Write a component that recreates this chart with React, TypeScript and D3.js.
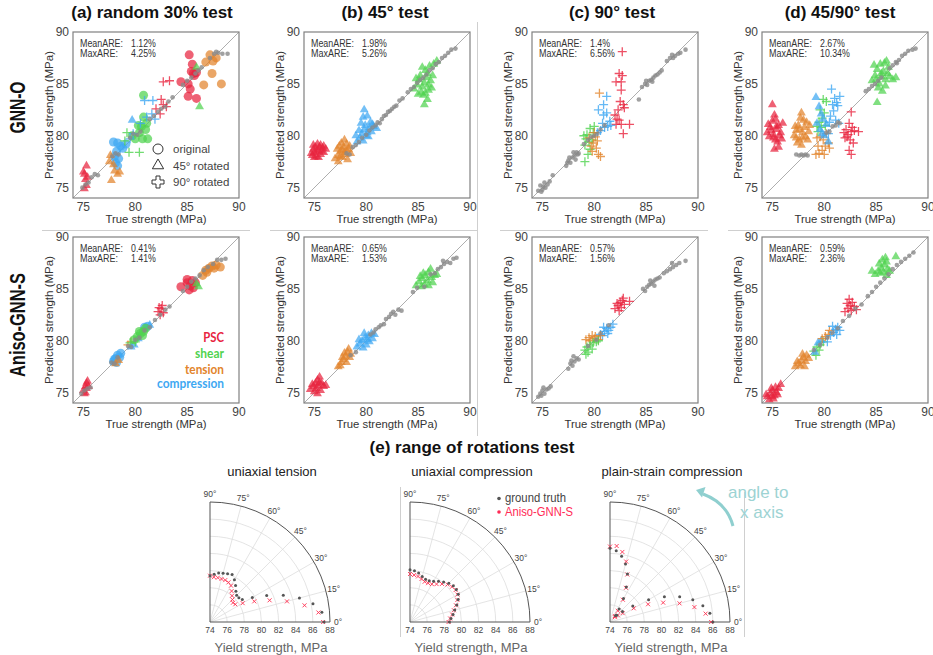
import React from 'react';
import * as d3 from 'd3';

type Pt = [number, number];
type Group = [string, string, Pt[]]; // load case, marker, points

const FONT = 'Liberation Sans, Arial, Helvetica, sans-serif';

const caseColor: Record<string, string> = {
  P: '#e8243f', S: '#4fd34f', T: '#e2842c', C: '#3ea8f2',
};
const caseNames = ['PSC', 'shear', 'tension', 'compression'];
const caseKeys = ['P', 'S', 'T', 'C'];

const ticks = [75, 80, 85, 90];
const columnTitles = ['(a) random 30% test', '(b) 45° test', '(c) 90° test', '(d) 45/90° test'];
const rowTitles = ['GNN-O', 'Aniso-GNN-S'];

// ---------------- GNN-O row ----------------
const grayA1: Pt[] = [
  [74.9, 75.0], [75.2, 75.3], [75.5, 75.5], [75.8, 76.0], [76.1, 76.3], [76.4, 76.2], [77.8, 78.0], [78.1, 78.3],
  [78.4, 78.2], [79.5, 79.8], [79.8, 80.2], [80.2, 80.1], [80.5, 80.4], [81.4, 81.6], [81.8, 81.9], [82.2, 82.3],
  [82.5, 82.6], [82.9, 82.8], [83.2, 83.3], [83.6, 83.7], [84.6, 84.9], [85.0, 85.3], [85.4, 85.6], [85.8, 86.0],
  [86.1, 86.3], [86.4, 86.6], [87.2, 87.5], [87.6, 87.9], [88.0, 88.0], [88.4, 87.9], [88.9, 87.9], [87.8, 88.1],
];
const marksA1: Group[] = [
  ['P', 'o', [[85.2, 87.8], [85.5, 86.9], [85.4, 86.2], [85.9, 86.1], [85.7, 85.8], [84.4, 85.2], [85.1, 85.0], [85.3, 84.5], [85.1, 83.8], [85.9, 83.6], [85.6, 86.0]]],
  ['T', 'o', [[87.2, 87.8], [87.8, 87.5], [86.8, 87.1], [87.4, 86.0], [86.6, 84.9], [88.3, 85.0], [87.5, 87.2]]],
  ['S', 'o', [[80.8, 83.9], [80.8, 81.8], [81.1, 81.2], [80.6, 80.9], [80.4, 80.3], [81.0, 80.6], [80.0, 79.7], [80.7, 79.7], [81.2, 79.7], [79.7, 80.0], [80.3, 81.0]]],
  ['C', 'o', [[77.9, 79.4], [78.3, 79.3], [78.6, 79.0], [78.2, 78.5], [78.0, 78.0], [78.4, 77.8], [78.1, 77.4], [78.8, 78.8], [79.1, 79.2], [78.3, 77.1]]],
  ['P', '^', [[75.3, 77.1], [75.1, 76.3], [75.2, 75.8], [75.3, 75.2], [75.1, 74.9], [75.0, 76.5], [75.4, 76.0]]],
  ['T', '^', [[77.9, 77.2], [78.0, 76.6], [77.7, 75.7], [78.3, 76.3], [77.6, 78.1], [78.5, 76.5], [77.5, 77.5]]],
  ['S', '^', [[86.2, 82.8], [85.9, 86.6]]],
  ['C', '^', [[79.7, 81.5]]],
  ['P', '+', [[82.7, 85.2], [83.3, 85.3], [82.5, 83.5], [82.7, 83.0], [82.0, 82.6], [82.4, 82.1], [83.0, 82.8]]],
  ['S', '+', [[79.0, 79.5], [79.4, 78.4], [80.4, 78.4], [79.2, 80.3]]],
  ['C', '+', [[80.9, 83.4], [81.7, 83.4], [81.6, 82.1], [81.1, 81.8], [81.9, 81.6], [80.5, 81.2], [79.8, 80.2], [79.5, 79.7]]],
];

const grayB1: Pt[] = [
  [78.1, 78.3], [78.4, 78.2], [78.7, 78.9], [79.0, 79.1], [79.3, 79.4], [79.6, 79.8], [80.0, 80.1], [80.3, 80.5],
  [80.6, 80.8], [80.9, 81.0], [81.1, 81.3], [81.3, 81.2], [81.5, 81.6], [81.7, 81.9], [81.9, 82.0], [82.1, 82.3],
  [82.3, 82.4], [82.5, 82.6], [82.7, 82.8], [82.9, 82.9], [83.2, 83.4], [83.5, 83.6], [84.0, 84.2], [84.3, 84.5],
  [84.6, 84.7], [84.9, 85.1], [85.2, 85.4], [85.5, 85.6], [85.8, 85.9], [86.1, 86.3], [86.4, 86.5], [86.7, 86.9],
  [87.0, 87.1], [87.3, 87.5], [87.6, 87.7], [87.9, 88.0], [88.2, 88.3], [88.6, 88.4],
];
const marksB1: Group[] = [
  ['P', '^', [[74.8, 78.1], [75.0, 78.4], [75.2, 78.0], [75.4, 78.6], [75.1, 78.9], [74.9, 78.7], [75.6, 78.2], [75.8, 78.8], [75.3, 79.2], [75.5, 78.9], [74.7, 78.3], [75.9, 79.0], [76.1, 78.7], [75.2, 78.5], [75.7, 78.5], [75.0, 77.9], [75.4, 77.9], [75.6, 79.1], [75.9, 78.4], [74.9, 79.1]]],
  ['T', '^', [[77.0, 77.8], [77.3, 78.1], [77.5, 78.5], [77.8, 78.9], [77.6, 79.3], [77.9, 79.6], [78.1, 79.2], [78.3, 78.7], [78.0, 78.2], [77.7, 77.9], [78.2, 77.7], [77.4, 79.0], [77.2, 78.7], [78.4, 79.0], [77.9, 78.4], [77.5, 78.0], [78.1, 78.6], [77.7, 78.6], [78.5, 78.3], [77.3, 77.5]]],
  ['C', '^', [[79.1, 79.4], [79.4, 79.8], [79.6, 80.2], [79.3, 80.5], [79.8, 80.6], [80.1, 80.3], [80.3, 80.8], [79.9, 81.0], [80.5, 80.4], [80.7, 80.9], [81.0, 80.7], [79.7, 79.5], [80.2, 79.9], [79.5, 81.2], [79.8, 82.5], [79.7, 81.8], [80.1, 81.9], [80.4, 81.3], [79.0, 80.0], [80.6, 81.1], [80.0, 80.0]]],
  ['S', '^', [[84.6, 84.5], [84.9, 84.9], [85.1, 85.4], [85.4, 84.7], [85.6, 85.1], [85.8, 85.6], [86.0, 84.9], [86.2, 85.3], [85.3, 84.2], [85.7, 84.1], [86.0, 84.4], [85.5, 83.9], [85.9, 83.5], [85.6, 83.0], [85.2, 85.8], [85.9, 86.0], [86.1, 86.7], [85.7, 86.3], [86.4, 85.8], [84.8, 85.5], [85.0, 84.0], [86.3, 84.6], [86.8, 87.2], [85.4, 86.6], [86.5, 86.9]]],
];

const grayC1: Pt[] = [
  [74.6, 74.7], [74.9, 74.6], [75.1, 75.1], [75.3, 75.0], [75.2, 75.5], [75.5, 75.3], [74.8, 75.2], [75.7, 75.6], [76.0, 76.2], [75.0, 74.8],
  [77.3, 77.1], [77.5, 77.6], [77.7, 77.4], [77.9, 77.9], [78.1, 78.1], [78.2, 77.7], [78.4, 78.2], [78.0, 78.4], [77.6, 77.9], [78.3, 78.4], [77.4, 77.4], [78.5, 78.3],
  [79.0, 79.2], [79.4, 79.6], [79.7, 79.9], [80.0, 80.0], [80.3, 80.2], [80.6, 80.6], [81.0, 81.0], [84.3, 83.5],
  [84.6, 84.7], [84.9, 85.0], [85.1, 84.9], [85.3, 85.3], [85.5, 85.4], [85.7, 85.6], [85.9, 85.8], [86.1, 85.9], [86.3, 86.1], [85.0, 85.3], [85.6, 85.2], [86.5, 86.3],
  [87.0, 87.2], [87.3, 87.5], [87.6, 87.5], [87.8, 87.7], [88.1, 87.9], [88.3, 88.0], [88.8, 88.3], [87.5, 87.8],
];
const marksC1: Group[] = [
  ['P', '+', [[82.4, 86.0], [82.7, 85.8], [82.1, 85.2], [82.6, 85.2], [82.6, 84.4], [82.3, 82.5], [82.8, 83.0], [82.5, 83.3], [82.0, 82.0], [82.4, 81.5], [82.1, 81.1], [82.6, 81.1], [83.4, 81.1], [82.8, 80.2], [82.7, 88.1], [82.9, 82.7], [82.2, 81.6]]],
  ['C', '+', [[81.2, 83.8], [80.9, 83.0], [80.9, 82.0], [81.2, 82.2], [80.4, 82.5], [81.5, 81.4], [81.0, 80.8], [80.6, 80.5], [81.3, 80.9], [80.8, 81.2], [81.6, 81.0], [80.3, 80.3]]],
  ['S', '+', [[79.6, 80.7], [79.3, 80.1], [79.1, 79.1], [79.4, 78.2], [79.1, 77.5], [79.8, 79.6], [79.5, 79.4], [80.0, 80.9], [79.2, 79.7], [79.6, 78.7], [79.0, 80.0], [79.9, 80.3]]],
  ['T', '+', [[80.5, 84.1], [80.1, 79.9], [80.2, 78.8], [80.4, 78.2], [79.9, 79.3], [79.7, 79.0], [80.3, 79.5], [79.8, 78.5], [80.0, 80.3], [80.6, 78.0], [79.5, 79.8]]],
];

const grayD1: Pt[] = [
  [77.3, 78.2], [77.6, 78.1], [77.8, 78.2], [78.0, 78.1], [78.2, 78.2], [78.4, 78.1],
  [80.2, 80.3], [80.5, 80.4], [80.8, 80.9], [81.1, 81.0], [81.3, 81.3], [81.5, 81.2],
  [84.0, 84.3], [84.3, 84.5], [84.6, 84.8], [84.9, 85.0], [85.2, 85.3], [85.5, 85.6],
  [86.3, 86.5], [86.6, 86.8], [86.9, 87.1], [87.2, 87.3], [87.5, 87.7], [87.8, 87.9], [88.1, 88.2], [88.5, 88.3], [88.8, 88.4], [87.0, 87.0],
];
const marksD1: Group[] = [
  ['P', '^', [[74.5, 80.3], [74.8, 80.8], [75.0, 81.4], [75.1, 80.1], [75.3, 79.6], [75.4, 80.6], [75.2, 82.0], [75.0, 83.0], [75.6, 81.0], [75.8, 80.3], [75.5, 79.4], [75.2, 78.7], [74.7, 79.9], [75.9, 79.7], [76.0, 81.2], [74.9, 80.5], [75.3, 81.6], [75.7, 80.0], [74.6, 81.1], [75.4, 80.9], [75.1, 79.8], [75.6, 78.9]]],
  ['T', '^', [[77.1, 80.0], [77.3, 80.5], [77.5, 81.0], [77.7, 81.7], [77.8, 82.2], [77.6, 79.6], [77.9, 80.3], [78.1, 80.8], [78.3, 81.3], [78.2, 79.9], [77.4, 79.3], [78.5, 80.4], [77.8, 79.1], [77.2, 80.9], [78.0, 81.5], [78.4, 79.6], [77.6, 80.6], [78.6, 81.0], [77.9, 79.8], [77.3, 79.8]]],
  ['T', '+', [[79.2, 78.2], [79.5, 78.3], [79.8, 78.6], [80.1, 79.0], [80.4, 79.3], [79.4, 79.0], [79.9, 79.6], [80.2, 80.2], [80.5, 78.8], [79.6, 79.9], [80.0, 78.2], [79.3, 79.8]]],
  ['S', '^', [[84.6, 85.3], [84.9, 85.8], [85.1, 86.4], [85.3, 85.0], [85.5, 85.7], [85.7, 86.2], [85.9, 85.4], [86.1, 86.0], [85.4, 86.9], [85.8, 87.0], [86.3, 85.7], [86.6, 85.4], [85.2, 84.6], [85.6, 84.3], [85.1, 83.2], [85.9, 84.8], [86.2, 86.6], [84.8, 86.8], [86.9, 85.6], [85.0, 85.4], [85.5, 86.0], [86.0, 87.2]]],
  ['S', '+', [[79.3, 80.9], [79.5, 81.3], [79.8, 81.7], [80.0, 82.2], [80.2, 83.3], [79.9, 83.5], [79.6, 82.5], [79.4, 80.4], [80.1, 81.0], [79.7, 80.8]]],
  ['C', '^', [[79.2, 83.7], [79.5, 82.8], [79.7, 82.1], [79.9, 81.6], [79.6, 80.6], [80.0, 80.0], [80.4, 79.4], [79.3, 81.2], [79.8, 80.2], [80.2, 81.1]]],
  ['C', '+', [[80.7, 84.5], [81.0, 83.6], [81.2, 83.2], [80.9, 82.4], [81.3, 82.9], [80.6, 81.9], [81.1, 81.5], [81.4, 81.2], [80.5, 81.3], [80.8, 83.0], [81.5, 83.8], [80.4, 80.2]]],
  ['P', '+', [[82.6, 82.3], [82.4, 81.2], [82.1, 80.6], [82.3, 80.1], [82.6, 80.4], [82.9, 80.5], [83.3, 80.4], [82.0, 79.8], [82.5, 79.6], [82.8, 79.3], [82.4, 78.6], [82.6, 78.2], [81.9, 80.3], [82.2, 79.9], [82.7, 80.8]]],
];

// ---------------- Aniso-GNN-S row ----------------
const grayA2: Pt[] = [
  [74.8, 74.9], [75.1, 75.2], [75.4, 75.4], [75.7, 75.5], [77.7, 77.9], [78.0, 77.8], [78.3, 78.4], [79.3, 79.5],
  [79.6, 79.4], [80.0, 80.1], [80.4, 80.3], [80.9, 81.0], [81.4, 81.3], [81.9, 82.0], [82.4, 82.5], [82.9, 83.0],
  [83.3, 83.3], [84.6, 84.8], [85.0, 85.2], [85.4, 85.7], [85.8, 86.0], [86.2, 86.3], [86.6, 86.8], [87.0, 87.1],
  [87.5, 87.4], [87.9, 87.8], [88.3, 87.8], [88.7, 87.9],
];
const marksA2: Group[] = [
  ['P', '^', [[75.0, 75.2], [75.2, 75.6], [75.3, 75.9], [75.4, 76.1], [75.1, 74.9], [75.3, 75.4], [75.5, 75.6], [75.2, 75.0]]],
  ['C', 'o', [[78.0, 78.2], [78.3, 78.6], [78.5, 78.4], [78.2, 77.9], [77.9, 78.0], [78.6, 78.8], [78.1, 78.3], [80.9, 81.3], [81.2, 81.4]]],
  ['T', '^', [[78.1, 77.8], [78.4, 78.1]]],
  ['T', '+', [[79.3, 79.6], [79.6, 79.9]]],
  ['C', '^', [[79.6, 79.4], [79.9, 79.6], [80.3, 80.2], [81.4, 81.5]]],
  ['S', 'o', [[79.9, 80.1], [80.2, 80.4], [80.5, 80.7], [80.8, 80.9], [81.0, 81.2], [80.4, 80.9], [80.7, 80.5]]],
  ['S', '+', [[79.5, 79.8], [80.0, 79.9]]],
  ['P', '+', [[82.2, 82.8], [82.5, 83.1], [82.7, 82.7], [82.4, 82.5], [82.6, 83.4], [82.3, 83.2]]],
  ['P', 'o', [[84.4, 85.2], [85.0, 85.6], [85.3, 85.3], [85.5, 85.8], [85.8, 85.6], [85.6, 85.1], [85.2, 84.9], [85.0, 85.9]]],
  ['S', '^', [[86.1, 85.2], [85.9, 85.5]]],
  ['T', 'o', [[86.8, 86.8], [87.1, 87.0], [87.4, 87.2], [87.8, 87.3], [88.2, 87.1], [87.6, 87.0], [86.9, 86.6], [86.5, 86.3]]],
];

const grayB2: Pt[] = [
  [78.5, 78.6], [79.0, 78.9], [80.4, 80.6], [80.7, 80.8], [80.9, 81.1], [81.2, 81.3], [81.4, 81.5], [81.7, 81.6],
  [81.9, 82.1], [82.2, 82.3], [82.4, 82.6], [82.6, 82.8], [82.8, 82.5], [83.1, 83.0], [83.4, 82.9], [84.5, 84.7],
  [84.9, 85.1], [86.2, 86.4], [86.6, 86.5], [86.9, 86.9], [87.2, 87.1], [87.5, 87.4], [87.8, 87.6], [88.1, 87.5],
  [88.4, 87.9], [88.7, 88.0], [87.4, 87.7], [85.6, 85.2],
];
const marksB2: Group[] = [
  ['P', '^', [[74.6, 75.3], [74.9, 75.6], [75.1, 75.9], [75.3, 76.2], [75.5, 76.5], [75.2, 75.4], [75.0, 75.1], [75.4, 75.7], [75.7, 75.9], [75.9, 75.6], [76.1, 75.7], [75.6, 75.2], [75.3, 74.9], [74.8, 75.8], [75.5, 76.0]]],
  ['T', '^', [[77.3, 77.5], [77.6, 77.9], [77.8, 78.2], [78.0, 78.5], [78.2, 78.9], [78.4, 78.4], [77.9, 78.8], [78.3, 79.2], [77.7, 78.4], [78.1, 77.9], [78.5, 78.7], [77.5, 77.6]]],
  ['C', '^', [[79.1, 79.4], [79.4, 79.7], [79.6, 80.0], [79.9, 80.3], [80.2, 80.5], [80.5, 80.7], [80.8, 80.6], [80.3, 79.9], [80.0, 79.6], [79.7, 79.3], [79.3, 80.1], [80.6, 80.2], [79.8, 80.7], [80.1, 80.1]]],
  ['S', '^', [[84.8, 85.3], [85.1, 85.7], [85.4, 86.0], [85.7, 86.3], [86.0, 86.6], [86.2, 86.9], [85.6, 85.4], [85.9, 85.8], [86.3, 86.1], [86.6, 86.3], [85.3, 85.2], [86.0, 85.3], [85.5, 86.5], [86.8, 86.4], [85.2, 86.2], [86.4, 85.6]]],
];

const grayC2: Pt[] = [
  [74.6, 74.6], [74.8, 74.9], [75.0, 75.2], [75.2, 74.9], [75.4, 75.3], [75.1, 75.5], [75.6, 75.4], [75.8, 75.6], [74.9, 74.7],
  [77.5, 77.3], [77.7, 77.8], [77.9, 77.6], [78.1, 78.0], [78.3, 78.3], [78.0, 78.5], [78.5, 78.2], [77.8, 78.1],
  [79.4, 79.5], [80.2, 80.1], [80.6, 80.7], [81.4, 81.5],
  [84.7, 85.0], [84.9, 84.8], [85.1, 85.2], [85.3, 85.4], [85.5, 85.5], [85.7, 85.7], [85.9, 85.9], [86.1, 86.0], [85.4, 85.8], [85.8, 85.3],
  [86.3, 86.1], [86.7, 86.5], [87.0, 86.7], [87.3, 86.9], [87.6, 87.1], [87.9, 87.3], [88.2, 87.5], [88.8, 87.7], [87.5, 87.5],
];
const marksC2: Group[] = [
  ['P', '+', [[82.0, 83.1], [82.3, 83.4], [82.5, 83.7], [82.7, 83.9], [82.6, 83.2], [82.9, 83.5], [82.4, 82.9], [83.4, 83.8], [82.2, 83.6], [82.8, 84.1]]],
  ['C', '+', [[80.8, 80.5], [81.0, 80.9], [81.2, 81.2], [81.4, 81.0], [81.6, 81.3], [80.9, 81.3], [81.3, 80.7], [81.8, 81.6], [80.6, 80.6]]],
  ['T', '+', [[79.2, 80.1], [79.5, 80.3], [79.8, 80.5], [80.1, 80.4], [80.4, 80.1], [80.6, 80.5], [79.6, 80.0], [80.0, 80.2]]],
  ['S', '+', [[79.1, 79.1], [79.3, 79.4], [79.6, 79.6], [79.9, 79.8], [80.2, 79.9], [79.4, 78.9], [79.8, 79.2], [80.4, 80.0], [79.2, 78.7]]],
];

const grayD2: Pt[] = [
  [79.0, 79.1], [79.6, 79.6], [80.3, 80.3], [80.8, 80.8], [81.3, 81.2], [81.8, 81.9], [82.4, 82.4], [83.0, 83.1],
  [83.6, 83.5], [84.2, 84.3], [84.6, 84.7], [85.0, 85.2], [85.4, 85.6], [85.8, 86.0], [86.2, 86.4], [86.6, 86.9],
  [87.0, 87.3], [87.4, 87.6], [87.8, 87.9], [88.2, 88.2], [88.6, 88.5],
];
const marksD2: Group[] = [
  ['P', '^', [[74.5, 74.6], [74.8, 74.9], [75.0, 75.2], [75.2, 74.7], [75.4, 75.0], [75.6, 75.4], [75.8, 75.8], [75.1, 74.4], [74.7, 74.3], [75.3, 75.5], [74.9, 75.4], [75.5, 74.8], [74.4, 74.8], [75.0, 74.6]]],
  ['T', '^', [[77.2, 77.5], [77.5, 77.8], [77.8, 78.1], [78.0, 78.4], [78.3, 78.6], [77.7, 77.6], [78.2, 78.0], [78.5, 78.3], [77.9, 78.7], [77.4, 78.0], [78.1, 77.5]]],
  ['S', '+', [[79.0, 79.0], [79.3, 79.4], [79.6, 79.6], [79.9, 79.9], [79.2, 78.6], [79.5, 79.1]]],
  ['C', '^', [[79.4, 79.8], [79.7, 80.0], [79.1, 78.9]]],
  ['T', '+', [[79.8, 80.2], [80.1, 80.4], [80.4, 80.6], [80.5, 81.0]]],
  ['C', '+', [[80.6, 80.5], [80.9, 80.8], [81.1, 81.1], [81.3, 81.3], [81.5, 81.0], [80.8, 81.4], [81.2, 80.6], [80.3, 79.9]]],
  ['P', '+', [[82.0, 82.8], [82.3, 83.1], [82.5, 83.4], [82.7, 83.7], [82.6, 82.9], [82.9, 83.3], [82.2, 83.6], [83.1, 83.0], [82.4, 84.0]]],
  ['S', '^', [[84.9, 86.4], [85.2, 86.7], [85.5, 87.0], [85.8, 87.3], [86.0, 87.6], [85.4, 86.5], [85.7, 86.6], [86.1, 86.9], [85.3, 87.4], [85.9, 88.0], [86.3, 86.7], [86.9, 88.1], [84.6, 86.7], [86.0, 86.3], [85.6, 87.8]]],
];

const meanARE = ['1.12%', '1.98%', '1.4%', '2.67%', '0.41%', '0.65%', '0.57%', '0.59%'];
const maxARE = ['4.25%', '5.26%', '6.56%', '10.34%', '1.41%', '1.53%', '1.56%', '2.36%'];

// ---------------- (e) range of rotations ----------------
const angles = [0, 5, 10, 15, 20, 25, 30, 35, 40, 45, 50, 55, 60, 65, 70, 75, 80, 85, 90];
const tensionTruth = [87.3, 87.1, 86.2, 84.8, 83.1, 81.3, 79.7, 78.6, 78.4, 78.4, 78.7, 79.2, 79.7, 80.1, 80.0, 79.9, 79.8, 79.6, 79.4];
const tensionPred = [87.2, 86.7, 85.2, 83.3, 81.4, 79.7, 78.4, 77.6, 77.5, 77.7, 78.0, 78.4, 78.9, 79.1, 79.2, 79.2, 79.25, 79.25, 79.4];
const compTruth = [78.6, 78.8, 79.1, 79.4, 79.8, 80.2, 80.5, 80.6, 80.6, 80.4, 80.1, 79.8, 79.5, 79.3, 79.3, 79.5, 79.8, 80.0, 80.1];
const compPred = [78.5, 78.7, 79.0, 79.3, 79.7, 80.1, 80.4, 80.5, 80.4, 80.2, 79.8, 79.4, 79.1, 79.0, 79.0, 79.2, 79.4, 79.5, 79.6];
const pscTruth = [86.0, 85.7, 85.0, 84.0, 82.65, 81.0, 79.2, 77.25, 75.9, 75.1, 75.0, 75.85, 77.15, 78.5, 79.95, 81.0, 81.8, 82.35, 82.6];
const pscPred = [85.8, 85.2, 84.0, 82.4, 80.6, 78.9, 77.2, 75.8, 75.2, 74.8, 74.9, 75.6, 77.0, 78.4, 79.9, 81.3, 82.3, 82.9, 82.8];
const polarTitles = ['uniaxial tension', 'uniaxial compression', 'plain-strain compression'];
const radialTicks = [74, 76, 78, 80, 82, 84, 86, 88];
const angleTicks = [0, 15, 30, 45, 60, 75, 90];

const panels = [
  { gray: grayA1, marks: marksA1 }, { gray: grayB1, marks: marksB1 },
  { gray: grayC1, marks: marksC1 }, { gray: grayD1, marks: marksD1 },
  { gray: grayA2, marks: marksA2 }, { gray: grayB2, marks: marksB2 },
  { gray: grayC2, marks: marksC2 }, { gray: grayD2, marks: marksD2 },
];

const colX = [73, 304, 532, 762];
const rowY = [32, 237];
const SIZE = 166;

const triPath = d3.symbol().type(d3.symbolTriangle).size(34)() as string;
const plusPath = 'M-4.5,0H4.5M0,-4.5V4.5';
const outlinedPlus = 'M-2,-6H2V-2H6V2H2V6H-2V2H-6V-2H-2Z';

// rough Arial advance widths for the ARE values
const approxW = (s: string, size: number) =>
  s.split('').reduce((w, ch) => w + (ch === '.' ? 0.278 : ch === '%' ? 0.889 : 0.556), 0) * size * 0.88;

const Marker = ({ shape, x, y, color }: { shape: string; x: number; y: number; color: string }) => {
  if (shape === 'o') return <circle cx={x} cy={y} r={4.5} fill={color} fillOpacity={0.72} />;
  if (shape === '^') return <path d={triPath} transform={`translate(${x},${y})`} fill={color} fillOpacity={0.72} />;
  return <path d={plusPath} transform={`translate(${x},${y})`} stroke={color} strokeOpacity={0.8} strokeWidth={1.3} fill="none" />;
};

const Scatter = ({ idx }: { idx: number }) => {
  const p = panels[idx];
  const left = colX[idx % 4];
  const top = rowY[Math.floor(idx / 4)];
  const x = d3.scaleLinear().domain([74, 90]).range([left, left + SIZE]);
  const y = d3.scaleLinear().domain([74, 90]).range([top + SIZE, top]);
  const bottom = top + SIZE;
  const mx = left + 7;
  return (
    <g>
      <line x1={x(74)} y1={y(74)} x2={x(90)} y2={y(90)} stroke="#999" strokeWidth={0.8} />
      {p.marks.map(([c, shape, pts], gi) =>
        pts.map((d, i) => <Marker key={`${gi}-${i}`} shape={shape} x={x(d[0])} y={y(d[1])} color={caseColor[c]} />)
      )}
      {p.gray.map((d, i) => (
        <circle key={`g${i}`} cx={x(d[0])} cy={y(d[1])} r={2.3} fill="#8a8a8a" fillOpacity={0.8} />
      ))}
      <rect x={left} y={top} width={SIZE} height={SIZE} fill="none" stroke="#808080" strokeWidth={1.2} />
      {ticks.map((t) => (
        <g key={t} fontFamily={FONT} fontSize={12} fill="#444">
          <text x={x(t)} y={bottom + 13} textAnchor="middle">{t}</text>
          <text x={left - 4} y={y(t) + 4} textAnchor="end">{t}</text>
        </g>
      ))}
      <text x={left + SIZE / 2} y={bottom + 24.5} textAnchor="middle" fontFamily={FONT} fontSize={11.5} fill="#333"
        textLength={101} lengthAdjust="spacingAndGlyphs">True strength (MPa)</text>
      <text transform={`translate(${left - 20.5},${top + SIZE / 2}) rotate(-90)`} textAnchor="middle" fontFamily={FONT}
        fontSize={11.5} fill="#333" textLength={128} lengthAdjust="spacingAndGlyphs">Predicted strength (MPa)</text>
      <g fontFamily={FONT} fontSize={10} fill="#333">
        <text x={mx} y={top + 14.5} textLength={43} lengthAdjust="spacingAndGlyphs">MeanARE:</text>
        <text x={mx + 51} y={top + 14.5} textLength={approxW(meanARE[idx], 10)} lengthAdjust="spacingAndGlyphs">{meanARE[idx]}</text>
        <text x={mx} y={top + 25} textLength={38} lengthAdjust="spacingAndGlyphs">MaxARE:</text>
        <text x={mx + 51} y={top + 25} textLength={approxW(maxARE[idx], 10)} lengthAdjust="spacingAndGlyphs">{maxARE[idx]}</text>
      </g>
    </g>
  );
};

const Polar = ({ cx, cy, truth, pred, title }: { cx: number; cy: number; truth: number[]; pred: number[]; title: string }) => {
  const r = d3.scaleLinear().domain([74, 88]).range([0, 120]);
  const R = r(88);
  const pos = (a: number, v: number): Pt => {
    const t = (a * Math.PI) / 180;
    return [cx + r(v) * Math.cos(t), cy - r(v) * Math.sin(t)];
  };
  const arc = (rad: number) => `M${cx + rad},${cy}A${rad},${rad} 0 0 0 ${cx},${cy - rad}`;
  return (
    <g>
      {radialTicks.slice(1, -1).map((v) => (
        <path key={v} d={arc(r(v))} fill="none" stroke="#ddd" strokeWidth={0.8} />
      ))}
      {angleTicks.slice(1, -1).map((a) => {
        const [ex, ey] = pos(a, 88);
        return <line key={a} x1={cx} y1={cy} x2={ex} y2={ey} stroke="#ddd" strokeWidth={0.8} />;
      })}
      <path d={arc(R)} fill="none" stroke="#555" strokeWidth={1} />
      <line x1={cx} y1={cy} x2={cx + R} y2={cy} stroke="#555" strokeWidth={1} />
      <line x1={cx} y1={cy} x2={cx} y2={cy - R} stroke="#555" strokeWidth={1} />
      {angles.map((a, i) => {
        const [px, py] = pos(a, pred[i]);
        return <path key={`p${a}`} d="M-2,-2L2,2M-2,2L2,-2" transform={`translate(${px},${py})`} stroke="#ff3050" strokeWidth={0.9} fill="none" />;
      })}
      {angles.map((a, i) => {
        const [px, py] = pos(a, truth[i]);
        return <circle key={`t${a}`} cx={px} cy={py} r={1.5} fill="#555" />;
      })}
      {radialTicks.map((v) => (
        <text key={v} x={cx + r(v)} y={cy + 11} textAnchor="middle" fontFamily={FONT} fontSize={8.5} fill="#444">{v}</text>
      ))}
      {angleTicks.map((a) => {
        const t = (a * Math.PI) / 180;
        return (
          <text key={a} x={cx + 128 * Math.cos(t)} y={cy - 128 * Math.sin(t) + 3} textAnchor="middle" fontFamily={FONT}
            fontSize={8.5} fill="#444">{a}°</text>
        );
      })}
      <text x={cx + 62} y={cy - 146} textAnchor="middle" fontFamily={FONT} fontSize={13} fill="#222">{title}</text>
      <text x={cx + 61} y={cy + 30} textAnchor="middle" fontFamily={FONT} fontSize={13} fill="#666"
        textLength={113} lengthAdjust="spacingAndGlyphs">Yield strength, MPa</text>
    </g>
  );
};

const App = () => {
  const titleX = [152, 385, 612, 840];
  const labelLen = [20.7, 29, 39, 67];
  const labelY = [341.7, 358.3, 374, 388.3];
  const legendShapes = [
    { shape: 'o', label: 'original' }, { shape: '^', label: '45° rotated' }, { shape: '+', label: '90° rotated' },
  ];
  const polarX = [210, 410, 610];
  const polarData = [[tensionTruth, tensionPred], [compTruth, compPred], [pscTruth, pscPred]];
  return (
    <svg width={933} height={655} style={{ position: 'absolute', left: 0, top: 0, background: '#fff' }}>
      {/* separators */}
      <g stroke="#cfcfcf" strokeWidth={1}>
        <line x1={42} x2={250} y1={230.5} y2={230.5} />
        <line x1={270} x2={477} y1={230.5} y2={230.5} />
        <line x1={500} x2={708} y1={230.5} y2={230.5} />
        <line x1={728} x2={930} y1={230.5} y2={230.5} />
        <line x1={477.5} x2={477.5} y1={22} y2={436} />
        <line x1={400.5} x2={400.5} y1={487} y2={637} />
        <line x1={744.5} x2={744.5} y1={492} y2={637} />
      </g>
      {columnTitles.map((t, i) => (
        <text key={t} x={titleX[i]} y={17.5} textAnchor="middle" fontFamily={FONT} fontWeight="bold" fontSize={17} fill="#111">{t}</text>
      ))}
      <text transform="translate(25,107.5) rotate(-90)" textAnchor="middle" fontFamily={FONT} fontWeight="bold" fontSize={22}
        fill="#111" textLength={52} lengthAdjust="spacingAndGlyphs">{rowTitles[0]}</text>
      <text transform="translate(25,325) rotate(-90)" textAnchor="middle" fontFamily={FONT} fontWeight="bold" fontSize={22}
        fill="#111" textLength={104} lengthAdjust="spacingAndGlyphs">{rowTitles[1]}</text>
      {panels.map((_, i) => <Scatter key={i} idx={i} />)}
      {/* marker legend, panel (a) top */}
      {legendShapes.map((l, i) => {
        const ly = 149 + i * 16.5;
        return (
          <g key={l.label}>
            {l.shape === 'o' && <circle cx={158} cy={ly} r={5} fill="none" stroke="#333" />}
            {l.shape === '^' && <path d={d3.symbol().type(d3.symbolTriangle).size(55)() as string} transform={`translate(158,${ly})`} fill="none" stroke="#333" />}
            {l.shape === '+' && <path d={outlinedPlus} transform={`translate(158,${ly})`} fill="none" stroke="#333" strokeWidth={1} />}
            <text x={173} y={ly + 4} fontFamily={FONT} fontSize={11.5} fill="#444">{l.label}</text>
          </g>
        );
      })}
      {/* load case legend, panel (a) bottom */}
      {caseNames.map((n, i) => (
        <text key={n} x={224} y={labelY[i]} textAnchor="end" fontFamily="Lato, 'Open Sans', sans-serif" fontWeight="bold"
          fontSize={14} fill={caseColor[caseKeys[i]]} textLength={labelLen[i]} lengthAdjust="spacingAndGlyphs">{n}</text>
      ))}
      {/* (e) */}
      <text x={472} y={453} textAnchor="middle" fontFamily={FONT} fontWeight="bold" fontSize={17} fill="#111">(e) range of rotations test</text>
      {polarX.map((cx, i) => (
        <Polar key={cx} cx={cx} cy={622} truth={polarData[i][0]} pred={polarData[i][1]} title={polarTitles[i]} />
      ))}
      <circle cx={499} cy={498.5} r={1.8} fill="#555" />
      <text x={505} y={502} fontFamily={FONT} fontSize={12.5} fill="#444" textLength={61} lengthAdjust="spacingAndGlyphs">ground truth</text>
      <circle cx={499} cy={512} r={1.8} fill="#ff2a55" />
      <text x={505} y={515.5} fontFamily={FONT} fontSize={12.5} fill="#ff2a55" textLength={68} lengthAdjust="spacingAndGlyphs">Aniso-GNN-S</text>
      {/* angle annotation */}
      <path d="M733,526 Q727,503 703,494" fill="none" stroke="#8fcfcf" strokeWidth={3} />
      <polygon points="696,490 705.5,487 702,497.5" fill="#8fcfcf" />
      <text x={728} y={498} fontFamily={FONT} fontSize={17} fill="#9dd3d3">angle to</text>
      <text x={740} y={518} fontFamily={FONT} fontSize={17} fill="#9dd3d3">x axis</text>
    </svg>
  );
};

export default App;
